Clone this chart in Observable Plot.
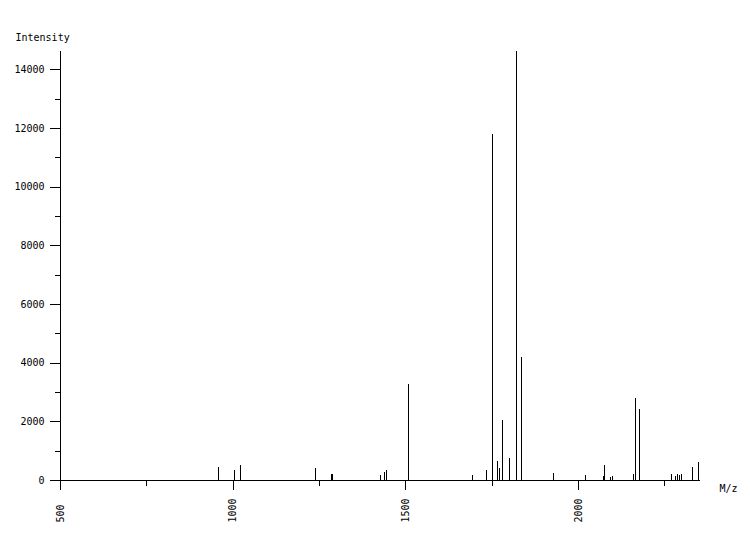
<!DOCTYPE html>
<html>
<head>
<meta charset="utf-8">
<script src="https://cdn.jsdelivr.net/npm/d3@7"></script>
<script src="https://cdn.jsdelivr.net/npm/@observablehq/plot@0.6"></script>
<style>
  html, body { margin: 0; padding: 0; background: white; }
</style>
</head>
<body>
<div id="chart"></div>
<script>
const mz = [957, 1004, 1021, 1239, 1286, 1288, 1427, 1439, 1444, 1509, 1694, 1734, 1752, 1766, 1772, 1781, 1801, 1821, 1835, 1928, 2021, 2073, 2076, 2091, 2099, 2160, 2166, 2177, 2270, 2282, 2285, 2291, 2299, 2331, 2346];
const intensity = [443, 330, 511, 409, 204, 204, 170, 273, 341, 3283, 170, 341, 11800, 648, 409, 2045, 750, 14622, 4192, 250, 170, 136, 511, 102, 136, 204, 2795, 2420, 204, 136, 204, 170, 204, 443, 614];
const xMajorTicks = [500, 1000, 1500, 2000];
const xMinorTicks = [750, 1250, 1750, 2250];
const yMajorTicks = [0, 2000, 4000, 6000, 8000, 10000, 12000, 14000];
const yMinorTicks = [1000, 3000, 5000, 7000, 9000, 11000, 13000];
const xDomain = [500, 2353];
const yDomain = [0, 14630];

const peaks = mz.map((m, i) => ({mz: m, intensity: intensity[i]}));

const chart = Plot.plot({
  width: 750,
  height: 540,
  marginLeft: 60,
  marginRight: 50,
  marginTop: 51,
  marginBottom: 60,
  style: {fontFamily: "'DejaVu Sans Mono', monospace", fontSize: "10px", background: "white", color: "black", shapeRendering: "crispEdges"},
  x: {type: "linear", domain: xDomain},
  y: {type: "linear", domain: yDomain},
  marks: [
    Plot.ruleX(peaks, {x: "mz", y1: 0, y2: "intensity", stroke: "black", strokeWidth: 1}),
    Plot.ruleY([0], {stroke: "black", strokeWidth: 1}),
    Plot.ruleX([xDomain[0]], {stroke: "black", strokeWidth: 1}),
    Plot.axisY(yMajorTicks, {tickSize: 10, tickPadding: 6, tickFormat: d => String(d), stroke: "black", strokeWidth: 1, strokeOpacity: 1, fill: "black", label: null}),
    Plot.axisY(yMinorTicks, {tickSize: 5, tickFormat: () => "", stroke: "black", strokeWidth: 1, strokeOpacity: 1, label: null}),
    Plot.axisX(xMajorTicks, {tickSize: 10, tickFormat: () => "", stroke: "black", strokeWidth: 1, strokeOpacity: 1, label: null}),
    Plot.axisX(xMinorTicks, {tickSize: 6, tickFormat: () => "", stroke: "black", strokeWidth: 1, strokeOpacity: 1, label: null}),
    Plot.text(xMajorTicks, {x: d => d, frameAnchor: "bottom", dy: 42, rotate: -90, textAnchor: "start", lineAnchor: "middle", text: d => String(d), fill: "black"}),
    Plot.text(["Intensity"], {frameAnchor: "top-left", dx: -45, dy: -14, textAnchor: "start", lineAnchor: "middle", text: d => d, fill: "black"}),
    Plot.text(["M/z"], {frameAnchor: "bottom-right", dx: 19, dy: 8, textAnchor: "start", lineAnchor: "middle", text: d => d, fill: "black"})
  ]
});
document.getElementById("chart").appendChild(chart);
</script>
</body>
</html>
